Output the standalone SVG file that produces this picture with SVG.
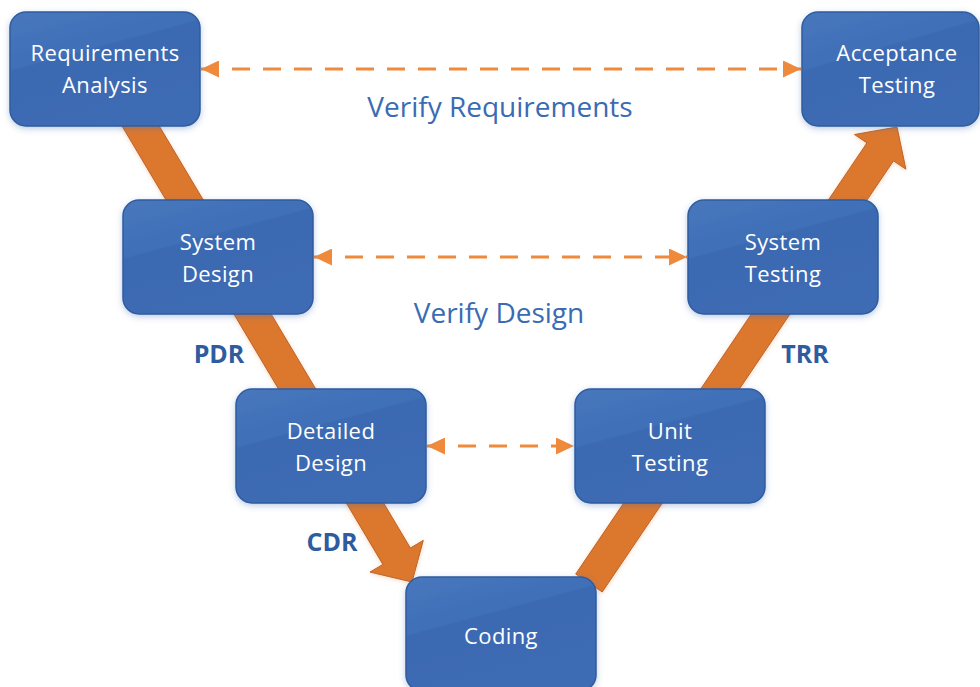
<svg xmlns="http://www.w3.org/2000/svg" width="980" height="687" viewBox="0 0 980 687">
  <defs>
    <linearGradient id="nodeFill" x1="0" y1="0" x2="0.45" y2="1">
      <stop offset="0" stop-color="#4877BD"/>
      <stop offset="0.42" stop-color="#3F6FB7"/>
      <stop offset="0.44" stop-color="#3A6AB2"/>
      <stop offset="1" stop-color="#3D6CB4"/>
    </linearGradient>
    <filter id="shadow" x="-10%" y="-10%" width="120%" height="130%">
      <feDropShadow dx="0" dy="2" stdDeviation="3" flood-color="#3B6BB3" flood-opacity="0.35"/>
    </filter>
    <filter id="glow" x="-10%" y="-10%" width="120%" height="120%">
      <feDropShadow dx="0" dy="1" stdDeviation="2" flood-color="#E07A30" flood-opacity="0.3"/>
    </filter>
    <marker id="dashHead" viewBox="0 0 18 17" refX="18" refY="8.5" markerWidth="18" markerHeight="17" markerUnits="userSpaceOnUse" orient="auto-start-reverse">
      <path d="M0,0 L18,8.5 L0,17 z" fill="#EF8A3C"/>
    </marker>
    <style>
      .node rect { fill: url(#nodeFill); stroke: #2F5C9E; stroke-width: 1.5; filter: url(#shadow); }
      .node text { fill: #FFFFFF; font-family: "Open Sans", "Liberation Sans", sans-serif; font-size: 22px; letter-spacing: 0.4px; text-anchor: middle; }
      .vband { fill: #DC772F; stroke: #BF6328; stroke-width: 1; filter: url(#glow); }
      .dash { stroke: #EF8A3C; stroke-width: 3; fill: none; stroke-dasharray: 18 13; marker-start: url(#dashHead); marker-end: url(#dashHead); }
      .verify { fill: #3A6BB3; font-family: "Open Sans", "Liberation Sans", sans-serif; font-size: 28px; text-anchor: middle; }
      .gate { fill: #2E5C9E; font-family: "Open Sans", "Liberation Sans", sans-serif; font-size: 25px; font-weight: bold; text-anchor: middle; }
    </style>
  </defs>

  <g id="connectors">
    <polygon class="vband" points="120.45,60.82 410.4,548.04 423.29,540.36 412,582 370.01,572.08 382.9,564.4 92.95,77.18"/>
    <polygon class="vband" points="602.26,591.96 893.47,160.82 905.9,169.21 897,127 854.52,134.51 866.95,142.9 575.74,574.04"/>
    <line class="dash" x1="201" y1="69" x2="801" y2="69"/>
    <line class="dash" x1="314" y1="257" x2="687" y2="257"/>
    <line class="dash" x1="427" y1="446" x2="574" y2="446"/>
  </g>

  <g id="labels">
    <text class="verify" x="500" y="117">Verify Requirements</text>
    <text class="verify" x="499" y="323">Verify Design</text>
    <text class="gate" x="219" y="363">PDR</text>
    <text class="gate" x="805" y="363">TRR</text>
    <text class="gate" x="332" y="551">CDR</text>
  </g>

  <g id="requirements-analysis" class="node">
    <rect x="10" y="12" width="190" height="114" rx="16"/>
    <text x="105" y="61">Requirements</text>
    <text x="105" y="93">Analysis</text>
  </g>
  <g id="system-design" class="node">
    <rect x="123" y="200" width="190" height="114" rx="16"/>
    <text x="218" y="250">System</text>
    <text x="218" y="282">Design</text>
  </g>
  <g id="detailed-design" class="node">
    <rect x="236" y="389" width="190" height="114" rx="16"/>
    <text x="331" y="439">Detailed</text>
    <text x="331" y="471">Design</text>
  </g>
  <g id="coding" class="node">
    <rect x="406" y="577" width="190" height="114" rx="16"/>
    <text x="501" y="644">Coding</text>
  </g>
  <g id="unit-testing" class="node">
    <rect x="575" y="389" width="190" height="114" rx="16"/>
    <text x="670" y="439">Unit</text>
    <text x="670" y="471">Testing</text>
  </g>
  <g id="system-testing" class="node">
    <rect x="688" y="200" width="190" height="114" rx="16"/>
    <text x="783" y="250">System</text>
    <text x="783" y="282">Testing</text>
  </g>
  <g id="acceptance-testing" class="node">
    <rect x="802" y="12" width="177" height="114" rx="16"/>
    <text x="897" y="61">Acceptance</text>
    <text x="897" y="93">Testing</text>
  </g>
</svg>
